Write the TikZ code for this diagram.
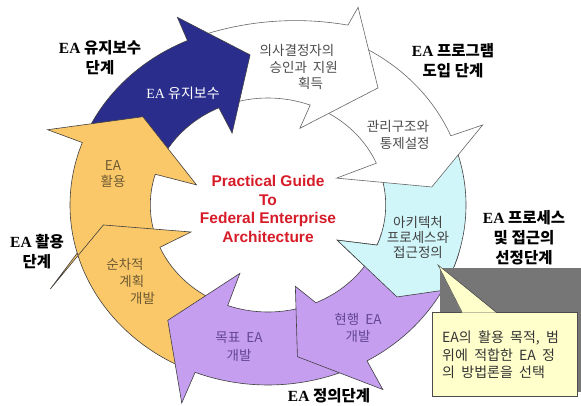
\documentclass[tikz,border=0pt]{standalone}
\usepackage{fontspec}
\usepackage{tikz}
\usetikzlibrary{positioning}
\newfontfamily\hanfont{Noto Sans CJK KR}
\newfontfamily\romfont{Liberation Serif}
\newfontfamily\sansfont{Liberation Sans}
\definecolor{navyarrow}{RGB}{43,45,140}
\definecolor{goldarrow}{RGB}{250,200,105}
\definecolor{lilacarrow}{RGB}{198,158,240}
\definecolor{iceblue}{RGB}{208,246,250}
\definecolor{notepaper}{RGB}{255,255,204}
\definecolor{notegray}{RGB}{118,118,118}
\definecolor{titlered}{RGB}{214,28,40}
\definecolor{lilactext}{RGB}{100,70,150}
\definecolor{goldtext}{RGB}{110,90,50}
\newcommand{\EA}{{\romfont EA}}
\newcommand{\gap}{\hspace{0.45em}}
% the cyan arrow is drawn twice, so its outline is kept here
\newcommand{\cyanshape}{(18:180) arc[start angle=18,end angle=-22,radius=180] -- (-22:212) -- (-38.1:149) -- (-29.2:72) -- (-22:107) arc[start angle=-22,end angle=18,radius=107] -- cycle}

\begin{document}
\begin{tikzpicture}[x=1pt,y=1pt,
    ring/.style={draw=black!75,line width=0.6pt},
    inlabel/.style={font=\hanfont\fontsize{13.5}{16.5}\selectfont,align=center},
    phase/.style={font=\hanfont\bfseries\fontsize{15.5}{20}\selectfont,align=center}]
  \useasboundingbox (0,0) rectangle (581,405);

  % Ring of arrows, in a frame stretched to the ellipse
  \begin{scope}[shift={(268,200)},xscale=1.1]
    \draw[ring,fill=iceblue] \cyanshape;
    \draw[ring,draw=black!60,fill=white] (64:180) arc[start angle=64,end angle=22.6,radius=180] -- (22.3:211) -- (6.9:150) -- (23.3:68) -- (23:107) arc[start angle=23,end angle=64,radius=107] -- cycle;
    \draw[ring,draw=black!60,fill=white] (110:180) -- plot[domain=110:68,samples=22] (\x:{180+14*((110-\x)/42)^2}) -- (67.5:214) -- (49.5:154) -- (69.3:82) -- (69:107) arc[start angle=69,end angle=110,radius=107] -- cycle;
    \draw[ring,fill=navyarrow] (154:180) arc[start angle=154,end angle=114,radius=180] -- (113.7:205) -- (96.2:151) -- (114.4:79) -- (114.7:107) arc[start angle=114.7,end angle=154,radius=107] -- cycle;
    \draw[ring,fill=goldarrow] (197:180) arc[start angle=197,end angle=159.7,radius=180] -- (159.4:214) -- (142.2:144) -- (162.8:68) -- (163.3:107) arc[start angle=163.3,end angle=197,radius=107] -- cycle;
    \draw[ring,fill=goldarrow] (-118:180) arc[start angle=-118,end angle=-164.5,radius=180] -- (-157:215) -- (-172.4:151) -- (-158.9:75) -- (-156.7:107) arc[start angle=-156.7,end angle=-118,radius=107] -- cycle;
    \draw[ring,fill=lilacarrow] (-67:180) arc[start angle=-67,end angle=-111.6,radius=180] -- (-111.6:213) -- (-128.3:147) -- (-110.5:73) -- (-110:107) arc[start angle=-110,end angle=-76,radius=107] -- cycle;
    \draw[ring,fill=lilacarrow] (-28:180) arc[start angle=-28,end angle=-60,radius=180] -- (-60.5:212) -- (-80:154) -- (-73:85) -- (-66:107) arc[start angle=-66,end angle=-28,radius=107] -- cycle;
    % cyan head again, over the tail of the lilac arrow
    \begin{scope}
      \clip (0,0) -- (-15:300) -- (-55:300) -- cycle;
      \draw[ring,fill=iceblue] \cyanshape;
    \end{scope}
  \end{scope}

  % Texts on the arrows
  \node[inlabel,font=\hanfont\fontsize{14}{17}\selectfont,text=white] (keepup) at (183,312) {\EA{} 유지보수};
  \node[inlabel,text=black!70] (approve) at (297,338) {의사결정자의\\\hspace*{1em}승인과\gap 지원\\\hspace*{2em}획득};
  \node[inlabel,text=black!70] (govern) at (398,270) {관리구조와\\\hspace*{1em}통제설정};
  \node[inlabel,font=\hanfont\fontsize{13.5}{15}\selectfont,text=black!75] (archdef) at (418,168) {아키텍처\\프로세스와\\접근정의};
  \node[inlabel,font=\hanfont\fontsize{13.5}{17}\selectfont,text=lilactext] (asis) at (358,77) {현행\gap EA\\개발};
  \node[inlabel,font=\hanfont\fontsize{13.5}{18}\selectfont,text=lilactext] (tobe) at (239,58) {목표\gap EA\\개발};
  \node[inlabel,font=\hanfont\fontsize{13.5}{17}\selectfont,text=goldtext] (seqplan) at (125,124) {순차적\\\hspace*{1em}계획\\\hspace*{2.6em}개발};
  \node[inlabel,font=\hanfont\fontsize{13.5}{16}\selectfont,text=goldtext] (useit) at (113,231) {EA\\활용};

  % Title in the middle
  \node[font=\sansfont\bfseries\fontsize{15.5}{18.5}\selectfont,text=titlered,align=center] (guide) at (268,196) {Practical Guide\\To\\Federal Enterprise\\Architecture};

  % Phase names round the ring
  \node[phase] (phkeep) at (100,347) {\EA{} 유지보수\\단계};
  \node[phase] (phintro) at (453,344) {\EA{} 프로그램\\도입 단계};
  \node[phase] (phselect) at (524,167) {\EA{} 프로세스\\및 접근의\\선정단계};
  \node[phase] (phuse) at (37,153) {\EA{} 활용\\단계};
  \node[phase] (phdefine) at (329,9) {\EA{} 정의단계};

  % Callout
  \fill[notegray] (440,137) rectangle (581,13);
  \draw[black!70,line width=0.5pt,fill=notepaper] (432,93) rectangle (577,9);
  \coordinate (notetip) at (438,140);
  \fill[notepaper] (462,92.4) -- (notetip) -- (496,92.4) -- cycle;
  \draw[black!70,line width=0.5pt] (462,93) -- (notetip) -- (496,93);
  \node[font=\hanfont\fontsize{14}{17.5}\selectfont,text=black!80,align=left,anchor=north west,inner sep=0pt] (notetext) at (442,74) {EA의\gap 활용\gap 목적,\gap 범\\위에\gap 적합한\gap EA\gap 정\\의\gap 방법론을\gap 선택};
\end{tikzpicture}
\end{document}
